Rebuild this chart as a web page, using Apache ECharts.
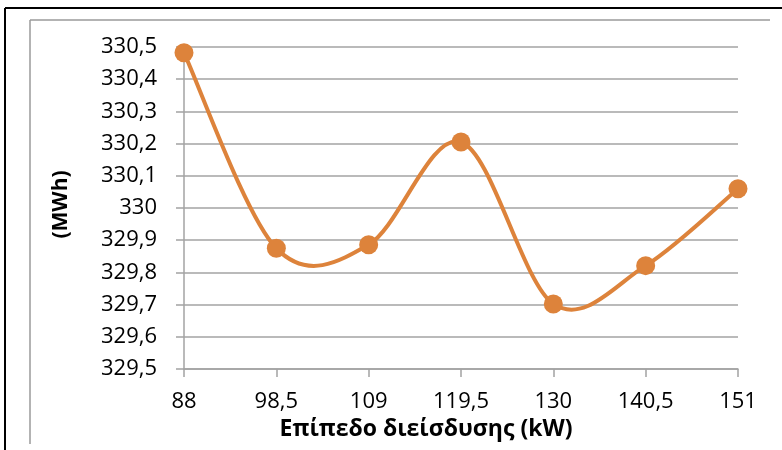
<!DOCTYPE html>
<html>
<head>
<meta charset="utf-8">
<script src="https://cdn.jsdelivr.net/npm/echarts@6/dist/echarts.min.js"></script>
<style>
html,body{margin:0;padding:0;background:#fff;}
#chart{width:782px;height:450px;}
</style>
</head>
<body>
<div id="chart"></div>
<script>
// ---- data ----
const categories = ['88', '98,5', '109', '119,5', '130', '140,5', '151'];
const energyValues = [330.482, 329.875, 329.886, 330.205, 329.702, 329.821, 330.060];
const yTickMin = 329.5;
const yTickMax = 330.5;
const yTickStep = 0.1;
const xAxisTitle = 'Επίπεδο διείσδυσης (kW)';
const yAxisTitle = '(MWh)';

const ORANGE = '#DD833B';
const GRID = '#A3A3A3';
const FONT = '"Open Sans", "Liberation Sans", sans-serif';

const chart = echarts.init(document.getElementById('chart'), null, {renderer: 'canvas'});

function fmt(v) {
  return String(+(+v).toFixed(1)).replace('.', ',');
}

// Smooth curve (Catmull-Rom style Bezier, like spreadsheet smoothing),
// computed from points placed by the library's own scales (api.coord).
function renderCurve(params, api) {
  if (params.dataIndex !== 0) return null;
  const pts = energyValues.map((v, i) => api.coord([i, v]));
  let d = 'M' + pts[0][0] + ' ' + pts[0][1];
  for (let i = 0; i < pts.length - 1; i++) {
    const p0 = pts[i - 1] || pts[i];
    const p1 = pts[i];
    const p2 = pts[i + 1];
    const p3 = pts[i + 2] || pts[i + 1];
    const c1x = p1[0] + (p2[0] - p0[0]) / 6;
    const c1y = p1[1] + (p2[1] - p0[1]) / 6;
    const c2x = p2[0] - (p3[0] - p1[0]) / 6;
    const c2y = p2[1] - (p3[1] - p1[1]) / 6;
    d += ' C' + c1x + ' ' + c1y + ' ' + c2x + ' ' + c2y + ' ' + p2[0] + ' ' + p2[1];
  }
  return {
    type: 'path',
    shape: {pathData: d},
    style: {fill: 'none', stroke: ORANGE, lineWidth: 4, lineJoin: 'round', lineCap: 'round'}
  };
}

const option = {
  animation: false,
  backgroundColor: '#ffffff',
  grid: {left: 184, right: 44, top: 47, bottom: 81, containLabel: false},
  xAxis: {
    type: 'category',
    data: categories,
    boundaryGap: false,
    name: xAxisTitle,
    nameLocation: 'middle',
    nameGap: 42,
    nameTextStyle: {fontFamily: FONT, fontSize: 23, fontWeight: 'bold', color: '#000', padding: [0, 70, 0, 0]},
    axisLine: {show: true, lineStyle: {color: GRID, width: 1.5}},
    axisTick: {show: true, length: 8, inside: false, lineStyle: {color: GRID, width: 1.5}},
    axisLabel: {fontFamily: FONT, fontSize: 22, color: '#000', margin: 22},
    splitLine: {show: false}
  },
  yAxis: {
    type: 'value',
    min: yTickMin,
    max: yTickMax,
    interval: yTickStep,
    name: yAxisTitle,
    nameLocation: 'middle',
    nameGap: 112,
    nameRotate: 90,
    nameTextStyle: {fontFamily: FONT, fontSize: 21, fontWeight: 'bold', color: '#000', padding: [0, 0, 0, 7]},
    axisLine: {show: true, lineStyle: {color: GRID, width: 1.5}},
    axisTick: {show: true, length: 8, inside: false, lineStyle: {color: GRID, width: 1.5}},
    axisLabel: {fontFamily: FONT, fontSize: 22, color: '#000', margin: 27, formatter: fmt},
    splitLine: {show: true, lineStyle: {color: GRID, width: 1.5}}
  },
  series: [
    {
      type: 'custom',
      renderItem: renderCurve,
      data: energyValues.map((v, i) => [i, v]),
      encode: {x: 0, y: 1},
      z: 2,
      silent: true
    },
    {
      type: 'line',
      data: energyValues,
      showSymbol: true,
      symbol: 'circle',
      symbolSize: 19,
      lineStyle: {width: 0, opacity: 0},
      itemStyle: {color: ORANGE, borderWidth: 0},
      z: 3
    }
  ],
  graphic: [
    {type: 'line', shape: {x1: 5, y1: 8, x2: 782, y2: 8}, style: {stroke: '#000', lineWidth: 2}, silent: true},
    {type: 'line', shape: {x1: 5, y1: 8, x2: 5, y2: 450}, style: {stroke: '#000', lineWidth: 2}, silent: true},
    {type: 'line', shape: {x1: 30, y1: 20, x2: 770, y2: 20}, style: {stroke: '#9a9a9a', lineWidth: 1.5}, silent: true},
    {type: 'line', shape: {x1: 30, y1: 20, x2: 30, y2: 444}, style: {stroke: '#9a9a9a', lineWidth: 1.5}, silent: true}
  ]
};
chart.setOption(option);
</script>
</body>
</html>
